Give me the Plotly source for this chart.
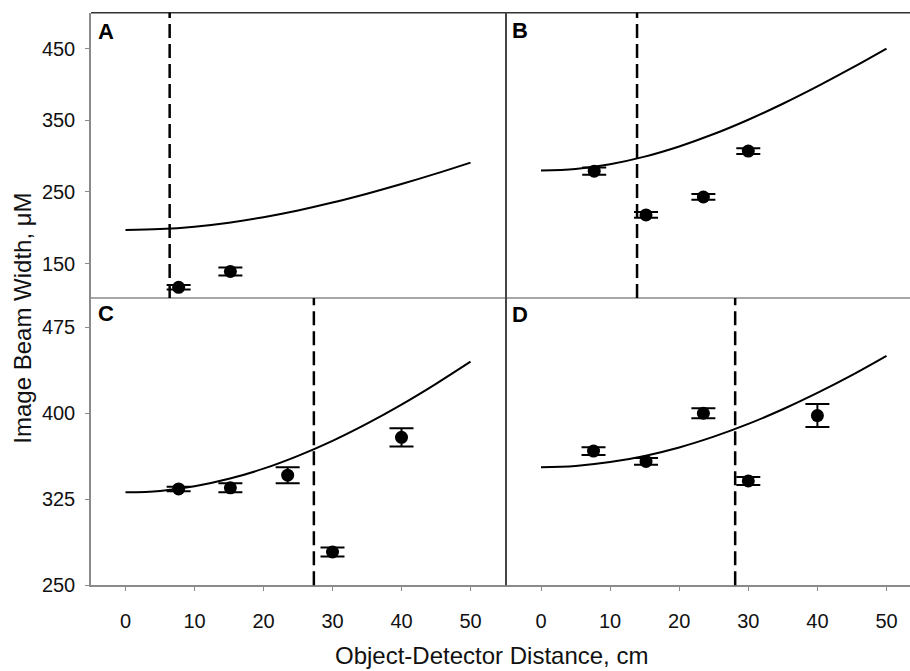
import plotly.graph_objects as go

W, H = 910, 671

# ---- data ----
dist_a = [7.7, 15.2]
width_a = [117, 139]
err_a = [3.2, 5.7]

dist_b = [7.7, 15.2, 23.5, 30.0]
width_b = [279, 218, 243, 307]
err_b = [5, 4, 4, 4]

dist_c = [7.7, 15.2, 23.5, 30.0, 40.0]
width_c = [334, 335, 346, 279, 379]
err_c = [2, 4, 7, 4, 8]

dist_d = [7.6, 15.2, 23.5, 30.0, 40.0]
width_d = [367, 358, 400, 341, 398]
err_d = [3.4, 3, 4.4, 3.5, 10]

curve_x = [0, 5, 10, 15, 20, 25, 30, 35, 40, 45, 50]
curve_a = [197, 198.2, 201.6, 207.2, 214.8, 224.2, 235.2, 247.6, 261.1, 275.6, 291]
curve_b = [280, 282.2, 288.7, 299.3, 313.5, 330.8, 350.8, 373.1, 397.3, 423.0, 450]
curve_c = [331, 332.3, 336.3, 342.8, 351.7, 362.9, 376.0, 391.0, 407.6, 425.7, 445]
curve_d = [353, 354.1, 357.4, 362.8, 370.2, 379.6, 390.7, 403.5, 417.7, 433.2, 450]

dashed_x = [6.4, 13.9, 27.3, 28.1]
panel_labels = ["A", "B", "C", "D"]

x_ticks = [0, 10, 20, 30, 40, 50]
y_ticks_top = [150, 250, 350, 450]
y_ticks_bottom = [250, 325, 400, 475]

FONT = "Liberation Sans, Arial, sans-serif"

def px_x(p):
    return p / W

def px_y(p):
    return 1 - p / H

fig = go.Figure()

panels = [
    ("x", "y", dist_a, width_a, err_a, curve_a),
    ("x2", "y2", dist_b, width_b, err_b, curve_b),
    ("x3", "y3", dist_c, width_c, err_c, curve_c),
    ("x4", "y4", dist_d, width_d, err_d, curve_d),
]

for xa, ya, dx, dy, de, cy in panels:
    fig.add_trace(go.Scatter(x=curve_x, y=cy, mode="lines", line=dict(color="black", width=2, shape="spline"),
                             xaxis=xa, yaxis=ya, showlegend=False, hoverinfo="skip"))
    fig.add_trace(go.Scatter(x=dx, y=dy, mode="markers",
                             marker=dict(color="black", size=13),
                             error_y=dict(type="data", array=de, visible=True, color="black", thickness=2, width=12),
                             xaxis=xa, yaxis=ya, showlegend=False))

left_dom = [px_x(91), px_x(505)]
right_dom = [px_x(505), 1.0]
top_dom = [px_y(303), px_y(13)]
bot_dom = [px_y(595), px_y(303)]

tickfont = dict(family=FONT, size=20, color="#111")
axis_gray = "#8a8a8a"

common_x = dict(showgrid=False, zeroline=False, tickvals=x_ticks)
fig.update_layout(
    width=W, height=H, margin=dict(l=0, r=0, t=0, b=0),
    paper_bgcolor="white", plot_bgcolor="white",
    xaxis=dict(domain=left_dom, range=[-5, 55], anchor="y", showticklabels=False, ticks="", showline=False, **common_x),
    xaxis2=dict(domain=right_dom, range=[-5.21, 53.4], anchor="y2", showticklabels=False, ticks="", showline=False, **common_x),
    xaxis3=dict(domain=left_dom, range=[-5, 55], anchor="y3", ticks="outside", ticklen=4, tickcolor=axis_gray,
                showline=True, linecolor=axis_gray, linewidth=1.5, tickfont=tickfont, ticklabelstandoff=13, **common_x),
    xaxis4=dict(domain=right_dom, range=[-5.21, 53.4], anchor="y4", ticks="outside", ticklen=4, tickcolor=axis_gray,
                showline=True, linecolor=axis_gray, linewidth=1.5, tickfont=tickfont, ticklabelstandoff=13, **common_x),
    yaxis=dict(domain=top_dom, range=[102, 500], anchor="x", tickvals=y_ticks_top, ticks="outside", ticklen=4,
               tickcolor=axis_gray, showline=True, linecolor=axis_gray, linewidth=1.5, showgrid=False, zeroline=False,
               tickfont=tickfont, ticklabelstandoff=6),
    yaxis2=dict(domain=top_dom, range=[102, 500], anchor="x2", showticklabels=False, ticks="", showline=False,
                showgrid=False, zeroline=False),
    yaxis3=dict(domain=bot_dom, range=[250, 500.5], anchor="x3", tickvals=y_ticks_bottom, ticks="outside", ticklen=4,
                tickcolor=axis_gray, showline=True, linecolor=axis_gray, linewidth=1.5, showgrid=False, zeroline=False,
                tickfont=tickfont, ticklabelstandoff=6),
    yaxis4=dict(domain=bot_dom, range=[250, 500.5], anchor="x4", showticklabels=False, ticks="", showline=False,
                showgrid=False, zeroline=False),
)

shapes = []
# frame lines
shapes.append(dict(type="line", xref="paper", yref="paper", x0=px_x(91), x1=1, y0=px_y(13), y1=px_y(13),
                   line=dict(color="#333", width=1.5)))
shapes.append(dict(type="line", xref="paper", yref="paper", x0=px_x(91), x1=1, y0=px_y(303), y1=px_y(303),
                   line=dict(color=axis_gray, width=1.5)))
shapes.append(dict(type="line", xref="paper", yref="paper", x0=px_x(506), x1=px_x(506), y0=px_y(13), y1=px_y(595),
                   line=dict(color="#444", width=2)))
# dashed vertical lines
for (xa, ya, *_), xv in zip(panels, dashed_x):
    shapes.append(dict(type="line", xref=xa, yref=ya + " domain", x0=xv, x1=xv, y0=0, y1=1,
                       line=dict(color="black", width=2.5, dash="14px,6px")))
fig.update_layout(shapes=shapes)

annotations = []
label_pos = [(96, 17), (510, 16), (96, 304), (510, 305)]
for lab, (lx, ly) in zip(panel_labels, label_pos):
    annotations.append(dict(text="<b>%s</b>" % lab, x=px_x(lx), y=px_y(ly), xref="paper", yref="paper",
                            xanchor="left", yanchor="top", showarrow=False,
                            font=dict(family=FONT, size=22, color="black")))
annotations.append(dict(text="Object-Detector Distance, cm", x=px_x(492), y=px_y(666), xref="paper", yref="paper",
                        xanchor="center", yanchor="middle", showarrow=False,
                        font=dict(family=FONT, size=24, color="#111")))
annotations.append(dict(text="Image Beam Width, μM", x=px_x(23), y=px_y(324), xref="paper", yref="paper",
                        xanchor="center", yanchor="middle", textangle=-90, showarrow=False,
                        font=dict(family=FONT, size=24, color="#111")))
fig.update_layout(annotations=annotations)

fig.write_html("out.html")
